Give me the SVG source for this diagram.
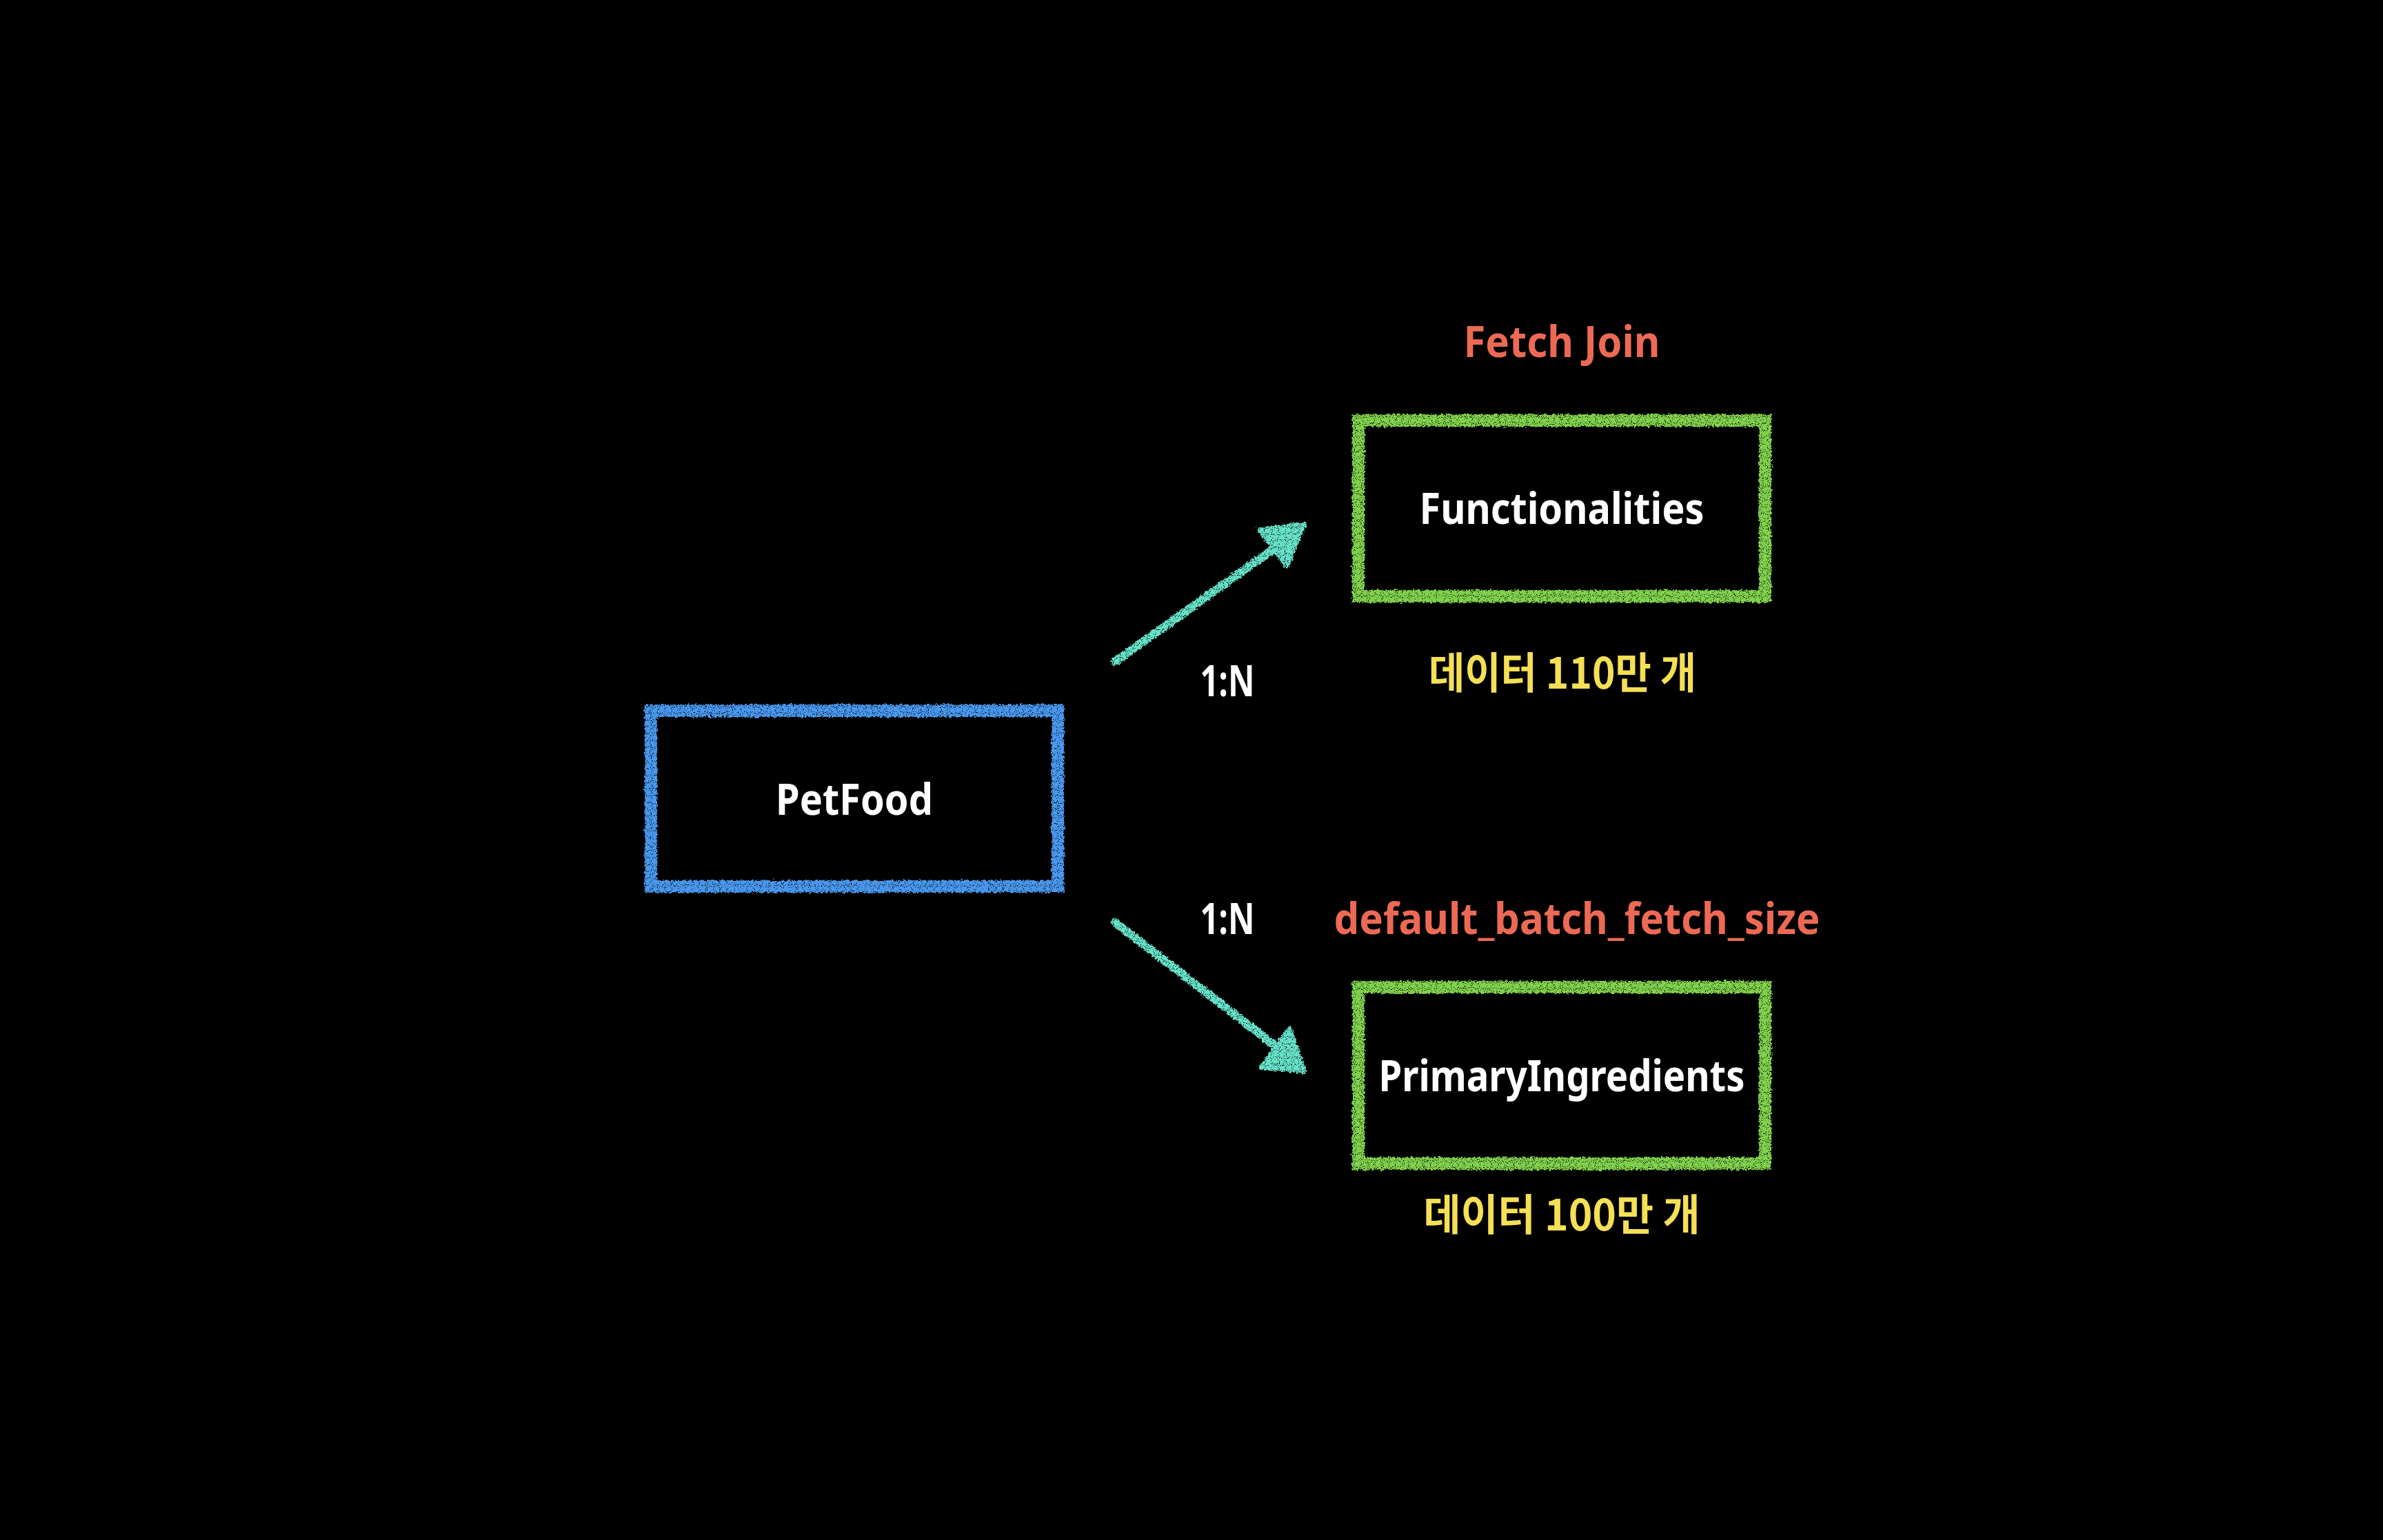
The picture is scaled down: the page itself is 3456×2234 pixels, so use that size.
<svg xmlns="http://www.w3.org/2000/svg" width="3456" height="2234" viewBox="0 0 3456 2234">
<defs>
<filter id="chalk" x="-10%" y="-10%" width="120%" height="120%">
<feTurbulence type="fractalNoise" baseFrequency="0.3" numOctaves="2" seed="3" result="n"/>
<feDisplacementMap in="SourceGraphic" in2="n" scale="7" xChannelSelector="R" yChannelSelector="G" result="d"/>
<feTurbulence type="fractalNoise" baseFrequency="0.9" numOctaves="1" seed="11" result="n2"/>
<feColorMatrix in="n2" type="matrix" values="0 0 0 0 0  0 0 0 0 0  0 0 0 0 0  0 0 0 -12 8.2" result="mask"/>
<feComposite in="d" in2="mask" operator="in"/>
</filter>
<style>
.box{fill:none;stroke-width:18;stroke-linejoin:miter}
.blue{stroke:#4a98ee}
.green{stroke:#80d24e}
.arrow{stroke:#66e2c9;stroke-width:12;stroke-linecap:round;fill:none}
.head{fill:#66e2c9;stroke:#66e2c9;stroke-width:6;stroke-linejoin:round}
text{font-family:"Noto Sans","Noto Sans CJK KR",sans-serif;font-weight:700;font-size:62px;text-anchor:middle}
.w{fill:#ffffff}
.r{fill:#ec6a54}
.y{fill:#f5df55;font-family:"Noto Sans CJK KR","Noto Sans",sans-serif}
</style>
</defs>
<rect x="0" y="0" width="3456" height="2234" fill="#000000"/>
<g id="connectors">
<g id="edge-petfood-functionalities" filter="url(#chalk)">
<line class="arrow" x1="1617" y1="960" x2="1856" y2="790"/>
<polygon class="head" points="1826,768 1892,760 1866,822"/>
</g>
<g id="edge-petfood-primaryingredients" filter="url(#chalk)">
<line class="arrow" x1="1617" y1="1338" x2="1856" y2="1522"/>
<polygon class="head" points="1870,1492 1892,1554 1828,1549"/>
</g>
<text class="w" x="1780" y="1010" textLength="79" lengthAdjust="spacingAndGlyphs">1:N</text>
<text class="w" x="1780" y="1355" textLength="79" lengthAdjust="spacingAndGlyphs">1:N</text>
</g>
<g id="node-petfood">
<rect class="box blue" x="944" y="1031" width="590" height="255" filter="url(#chalk)"/>
<text class="w" x="1239" y="1182" textLength="228" lengthAdjust="spacingAndGlyphs">PetFood</text>
</g>
<g id="node-functionalities">
<text class="r" x="2265" y="518" textLength="285" lengthAdjust="spacingAndGlyphs">Fetch Join</text>
<rect class="box green" x="1970" y="610" width="590" height="255" filter="url(#chalk)"/>
<text class="w" x="2265" y="760" textLength="413" lengthAdjust="spacingAndGlyphs">Functionalities</text>
<text class="y" x="2266" y="999" textLength="388" lengthAdjust="spacingAndGlyphs">데이터 110만 개</text>
</g>
<g id="node-primaryingredients">
<text class="r" x="2287" y="1355" textLength="705" lengthAdjust="spacingAndGlyphs">default_batch_fetch_size</text>
<rect class="box green" x="1970" y="1432" width="590" height="256" filter="url(#chalk)"/>
<text class="w" x="2265" y="1583" textLength="531" lengthAdjust="spacingAndGlyphs">PrimaryIngredients</text>
<text class="y" x="2265" y="1785" textLength="401" lengthAdjust="spacingAndGlyphs">데이터 100만 개</text>
</g>
</svg>
